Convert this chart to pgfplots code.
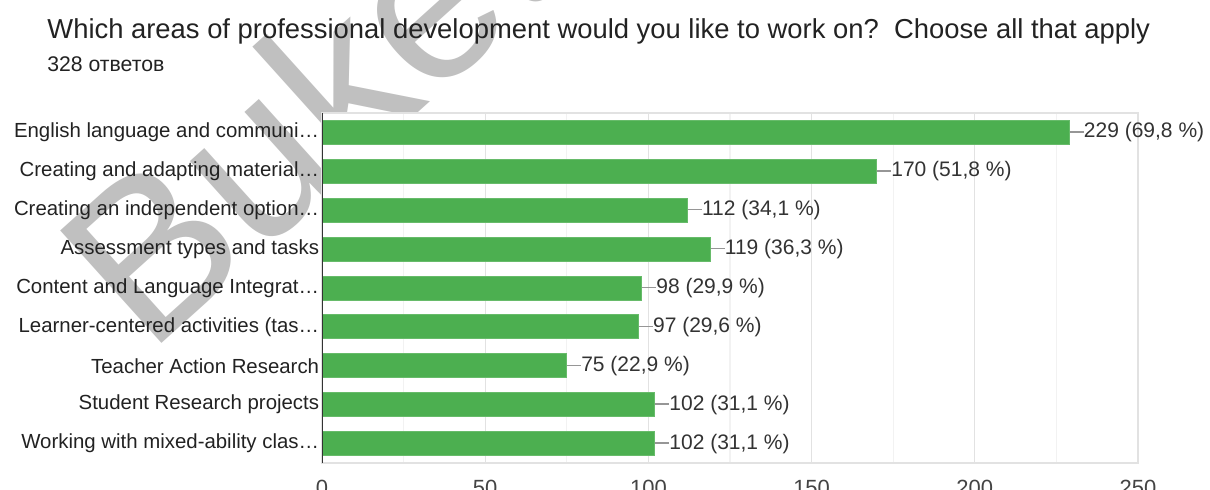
\documentclass[border=0pt]{standalone}
\usepackage{pgfplots}
\pgfplotsset{compat=1.18}
\usepackage{pgfplotstable}
\usepackage{fontspec}
\setmainfont{Liberation Sans}

\definecolor{barGreen}{RGB}{76,175,80}
\definecolor{gridMajor}{RGB}{226,226,226}
\definecolor{gridMinor}{RGB}{242,242,242}
\definecolor{labelText}{RGB}{34,34,34}
\definecolor{valueText}{RGB}{51,51,51}
\definecolor{tickText}{RGB}{68,68,68}
\definecolor{leaderGray}{RGB}{150,150,150}
\definecolor{markGray}{RGB}{192,192,192}

% idx  value  label
\pgfplotstableread{
i v lab
0 229 {229 (69,8 \%)}
1 170 {170 (51,8 \%)}
2 112 {112 (34,1 \%)}
3 119 {119 (36,3 \%)}
4 98  {98 (29,9 \%)}
5 97  {97 (29,6 \%)}
6 75  {75 (22,9 \%)}
7 102 {102 (31,1 \%)}
8 102 {102 (31,1 \%)}
}\answers

\begin{document}
\begin{tikzpicture}
% watermark, behind everything
\node[anchor=base west, rotate=42, inner sep=0pt, text=markGray,
      font=\fontsize{110bp}{110bp}\selectfont] at (74bp,-178bp) {Buketov};

% title and subtitle
\node[anchor=base west, inner sep=0pt, text=labelText,
      font=\fontsize{13.7bp}{15bp}\selectfont] at (23.5bp,-19bp)
  {Which areas of professional development would you like to work on?\ \ Choose all that apply};
\node[anchor=base west, inner sep=0pt, text=labelText,
      font=\fontsize{10.6bp}{12bp}\selectfont] at (23.5bp,-35.5bp) {328 ответов};

\begin{axis}[
    at={(161bp,-231.5bp)}, anchor=south west,
    scale only axis, width=408bp, height=175bp,
    xbar, bar width=12bp,
    xmin=0, xmax=250,
    ymin=-0.5, ymax=8.5, y dir=reverse,
    axis background/.style={fill=white},
    xtick={0,50,...,250},
    minor xtick={25,75,...,225},
    xmajorgrids, xminorgrids,
    major grid style={gridMajor, line width=0.6bp},
    minor grid style={gridMinor, line width=0.6bp},
    axis line style={gridMajor, line width=0.6bp},
    tick style={draw=none},
    ytick={0,...,8},
    yticklabels={
      {English language and communi…},
      {Creating and adapting material…},
      {Creating an independent option…},
      {Assessment types and tasks},
      {Content and Language Integrat…},
      {Learner-centered activities (tas…},
      {Teacher Action Research},
      {Student Research projects},
      {Working with mixed-ability clas…}},
    yticklabel style={font=\fontsize{10.2bp}{12bp}\selectfont, text=labelText,
        inner xsep=2bp, xshift=5bp},
    xticklabel style={font=\fontsize{11bp}{13bp}\selectfont, text=tickText, yshift=-5bp},
    /pgf/number format/assume math mode=true,
]
\addplot[fill=barGreen, draw=barGreen!85!white, line width=0.5bp,
    point meta=explicit symbolic,
    nodes near coords={\textcolor{leaderGray}{\rule[0.25em]{7bp}{0.7bp}}\pgfplotspointmeta},
    nodes near coords style={anchor=west, inner xsep=0pt, text=valueText,
        font=\fontsize{10.5bp}{12bp}\selectfont},
    ] table[x=v, y=i, meta=lab] {\answers};
\draw[black!80, line width=0.8bp] (axis cs:0,-0.5) -- (axis cs:0,8.5);
\end{axis}

\pgfresetboundingbox
\useasboundingbox (0,0) rectangle (605bp,-245bp);
\end{tikzpicture}
\end{document}
